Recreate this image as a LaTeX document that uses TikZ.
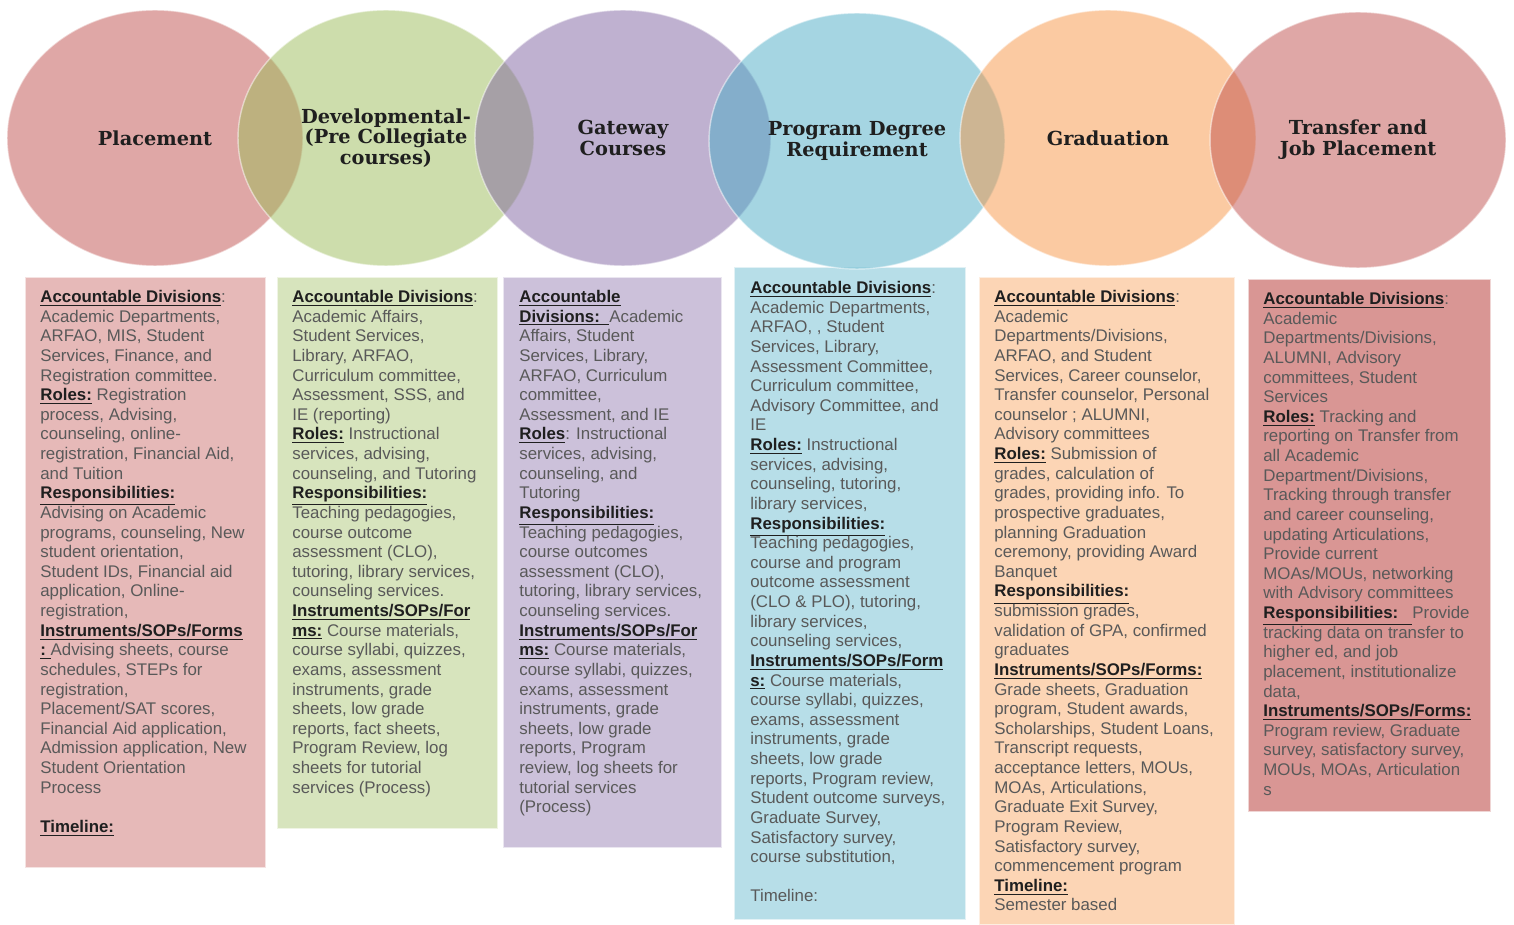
\documentclass[tikz,border=0pt]{standalone}
\usepackage{fontspec}
\setmainfont{Liberation Sans}
\newfontfamily\stagefont{DejaVu Serif}
\usetikzlibrary{shapes.geometric}

\definecolor{redacc}{HTML}{C0504D}
\definecolor{greenacc}{HTML}{9BBB59}
\definecolor{purpleacc}{HTML}{8064A2}
\definecolor{aquaacc}{HTML}{4BACC6}
\definecolor{orangeacc}{HTML}{F79646}
\definecolor{placebox}{HTML}{E6B9B8}
\definecolor{devbox}{HTML}{D7E4BD}
\definecolor{gatebox}{HTML}{CCC1DA}
\definecolor{progbox}{HTML}{B7DEE8}
\definecolor{gradbox}{HTML}{FCD5B5}
\definecolor{transbox}{HTML}{D99694}
\definecolor{bodygray}{HTML}{595959}
\definecolor{headgray}{HTML}{1F1F1F}

\newcommand{\hd}[1]{{\color{headgray}\underline{\textbf{#1}}}}

\tikzset{
    stage/.style={
        ellipse,
        minimum width=5.92cm,
        minimum height=5.12cm,
        fill opacity=0.5,
        text opacity=1,
        draw=white,
        draw opacity=0.5,
        line width=0.8pt,
        align=center,
        text=headgray,
        node font={\stagefont\bfseries\fontsize{11}{11.8}\selectfont}},
    panel/.style={
        draw=white,
        draw opacity=0.6,
        line width=0.8pt},
    info/.style={
        anchor=north west,
        inner sep=0pt,
        align=left,
        text=bodygray,
        node font={\fontsize{9.6}{11.17}\selectfont}},
}

\begin{document}
\begin{tikzpicture}[x=0.02cm, y=-0.02cm]
    \useasboundingbox (0,0) rectangle (1514,925);

    % panels under the stages
    \path[panel, fill=placebox] (25,277) rectangle (266,868);
    \path[panel, fill=devbox] (277,277) rectangle (498,829);
    \path[panel, fill=gatebox] (503,277) rectangle (722,848);
    \path[panel, fill=progbox] (734,267) rectangle (966,920);
    \path[panel, fill=gradbox] (979,277) rectangle (1235,925);
    \path[panel, fill=transbox] (1248,279) rectangle (1491,812);

    % stages
    \node[stage, fill=redacc] (placement) at (155,138) {Placement};
    \node[stage, fill=greenacc] (developmental) at (386,138)
        {Developmental-\\(Pre Collegiate\\courses)};
    \node[stage, fill=purpleacc] (gateway) at (623,138) {Gateway\\Courses};
    \node[stage, fill=aquaacc] (program) at (857,141)
        {Program Degree\\Requirement};
    \node[stage, fill=orangeacc] (graduation) at (1108,138) {Graduation};
    \node[stage, fill=redacc] (transfer) at (1358,140)
        {Transfer and\\Job Placement};

    % texts
    \node[info] (placementtext) at (40,290) {%
        \hd{Accountable Divisions}:\\
        Academic Departments,\\
        ARFAO, MIS, Student\\
        Services, Finance, and\\
        Registration committee.\\
        \hd{Roles:} Registration\\
        process, Advising,\\
        counseling, online-\\
        registration, Financial Aid,\\
        and Tuition\\
        \hd{Responsibilities:}\\
        Advising on Academic\\
        programs, counseling, New\\
        student orientation,\\
        Student IDs, Financial aid\\
        application, Online-\\
        registration,\\
        \hd{Instruments/SOPs/Forms}\\
        \hd{:~}Advising sheets, course\\
        schedules, STEPs for\\
        registration,\\
        Placement/SAT scores,\\
        Financial Aid application,\\
        Admission application, New\\
        Student Orientation\\
        Process\\
        ~\\
        \hd{Timeline:}};

    \node[info] (developmentaltext) at (292,290) {%
        \hd{Accountable Divisions}:\\
        Academic Affairs,\\
        Student Services,\\
        Library, ARFAO,\\
        Curriculum committee,\\
        Assessment, SSS, and\\
        IE (reporting)\\
        \hd{Roles:} Instructional\\
        services, advising,\\
        counseling, and Tutoring\\
        \hd{Responsibilities:}\\
        Teaching pedagogies,\\
        course outcome\\
        assessment (CLO),\\
        tutoring, library services,\\
        counseling services.\\
        \hd{Instruments/SOPs/For}\\
        \hd{ms:} Course materials,\\
        course syllabi, quizzes,\\
        exams, assessment\\
        instruments, grade\\
        sheets, low grade\\
        reports, fact sheets,\\
        Program Review, log\\
        sheets for tutorial\\
        services (Process)};

    \node[info] (gatewaytext) at (519,290) {%
        \hd{Accountable}\\
        \hd{Divisions:~~}Academic\\
        Affairs, Student\\
        Services, Library,\\
        ARFAO, Curriculum\\
        committee,\\
        Assessment, and IE\\
        \hd{Roles}: Instructional\\
        services, advising,\\
        counseling, and\\
        Tutoring\\
        \hd{Responsibilities:}\\
        Teaching pedagogies,\\
        course outcomes\\
        assessment (CLO),\\
        tutoring, library services,\\
        counseling services.\\
        \hd{Instruments/SOPs/For}\\
        \hd{ms:} Course materials,\\
        course syllabi, quizzes,\\
        exams, assessment\\
        instruments, grade\\
        sheets, low grade\\
        reports, Program\\
        review, log sheets for\\
        tutorial services\\
        (Process)};

    \node[info] (programtext) at (750,281) {%
        \hd{Accountable Divisions}:\\
        Academic Departments,\\
        ARFAO, , Student\\
        Services, Library,\\
        Assessment Committee,\\
        Curriculum committee,\\
        Advisory Committee, and\\
        IE\\
        \hd{Roles:} Instructional\\
        services, advising,\\
        counseling, tutoring,\\
        library services,\\
        \hd{Responsibilities:}\\
        Teaching pedagogies,\\
        course and program\\
        outcome assessment\\
        (CLO \& PLO), tutoring,\\
        library services,\\
        counseling services,\\
        \hd{Instruments/SOPs/Form}\\
        \hd{s:} Course materials,\\
        course syllabi, quizzes,\\
        exams, assessment\\
        instruments, grade\\
        sheets, low grade\\
        reports, Program review,\\
        Student outcome surveys,\\
        Graduate Survey,\\
        Satisfactory survey,\\
        course substitution,\\
        ~\\
        Timeline:};

    \node[info] (graduationtext) at (994,290) {%
        \hd{Accountable Divisions}:\\
        Academic\\
        Departments/Divisions,\\
        ARFAO, and Student\\
        Services, Career counselor,\\
        Transfer counselor, Personal\\
        counselor ; ALUMNI,\\
        Advisory committees\\
        \hd{Roles:} Submission of\\
        grades, calculation of\\
        grades, providing info. To\\
        prospective graduates,\\
        planning Graduation\\
        ceremony, providing Award\\
        Banquet\\
        \hd{Responsibilities:}\\
        submission grades,\\
        validation of GPA, confirmed\\
        graduates\\
        \hd{Instruments/SOPs/Forms:}\\
        Grade sheets, Graduation\\
        program, Student awards,\\
        Scholarships, Student Loans,\\
        Transcript requests,\\
        acceptance letters, MOUs,\\
        MOAs, Articulations,\\
        Graduate Exit Survey,\\
        Program Review,\\
        Satisfactory survey,\\
        commencement program\\
        \hd{Timeline:}\\
        Semester based};

    \node[info] (transfertext) at (1263,292) {%
        \hd{Accountable Divisions}:\\
        Academic\\
        Departments/Divisions,\\
        ALUMNI, Advisory\\
        committees, Student\\
        Services\\
        \hd{Roles:} Tracking and\\
        reporting on Transfer from\\
        all Academic\\
        Department/Divisions,\\
        Tracking through transfer\\
        and career counseling,\\
        updating Articulations,\\
        Provide current\\
        MOAs/MOUs, networking\\
        with Advisory committees\\
        \hd{Responsibilities:~~~}Provide\\
        tracking data on transfer to\\
        higher ed, and job\\
        placement, institutionalize\\
        data,\\
        \hd{Instruments/SOPs/Forms:}\\
        Program review, Graduate\\
        survey, satisfactory survey,\\
        MOUs, MOAs, Articulation\\
        s};
\end{tikzpicture}
\end{document}
